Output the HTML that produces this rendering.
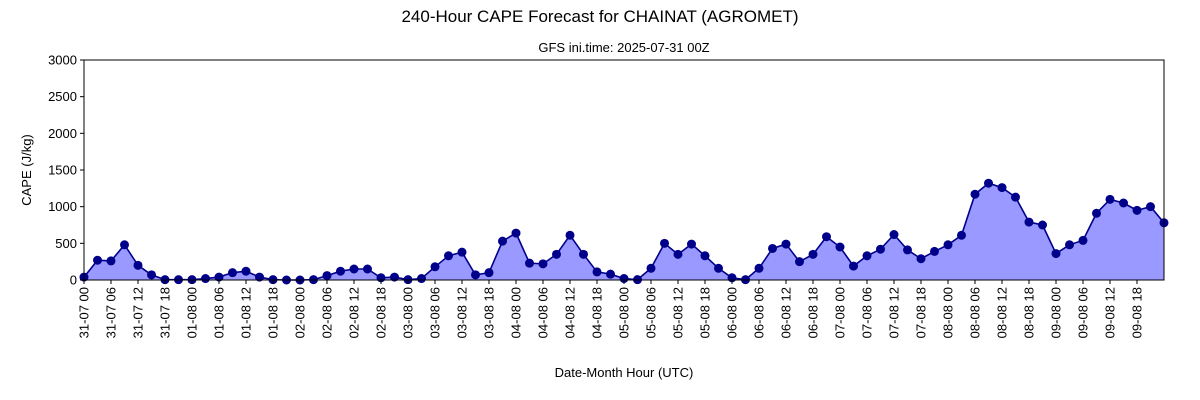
<!DOCTYPE html>
<html><head><meta charset="utf-8"><style>
body{margin:0;background:#fff;}
svg{display:block;font-family:"Liberation Sans","DejaVu Sans",sans-serif;}
</style></head><body>
<svg id="chart" width="1200" height="400">
<text x="600" y="22" font-size="17" text-anchor="middle">240-Hour CAPE Forecast for CHAINAT (AGROMET)</text>
<text x="624" y="52" font-size="13" text-anchor="middle">GFS ini.time: 2025-07-31 00Z</text>
<text transform="translate(31,170) rotate(-90)" font-size="13" text-anchor="middle">CAPE (J/kg)</text>
<text x="624" y="377" font-size="13" text-anchor="middle">Date-Month Hour (UTC)</text>
<g id="plot"></g>
</svg>
<script>
const cape = [40,270,260,480,200,70,5,5,5,20,40,100,120,40,5,0,0,5,60,120,150,150,30,40,5,20,180,330,380,70,100,530,640,230,220,350,610,350,110,80,20,5,160,500,350,490,330,160,30,5,160,430,490,250,350,590,450,190,330,420,620,410,290,390,480,610,1170,1320,1260,1130,790,750,360,480,540,910,1100,1050,950,1000,780];
const yTicks = [0,500,1000,1500,2000,2500,3000];
const days = ['31-07','01-08','02-08','03-08','04-08','05-08','06-08','07-08','08-08','09-08'];
const hours = ['00','06','12','18'];
const xTickLabels = [];
days.forEach(d=>hours.forEach(h=>xTickLabels.push(d+' '+h)));

const L=84,R=1164,T=60,B=280,yMax=3000,stepH=3,totalH=240;
const xs=h=>L+(h/totalH)*(R-L);
const ys=v=>B-(v/yMax)*(B-T);
const NS='http://www.w3.org/2000/svg';
const g=document.getElementById('plot');
function mk(tag,attrs){const e=document.createElementNS(NS,tag);for(const k in attrs)e.setAttribute(k,attrs[k]);return e;}

let pts=cape.map((v,i)=>[xs(i*stepH),ys(v)]);
const area=mk('path',{d:'M'+xs(0)+','+B+' '+pts.map(p=>'L'+p[0]+','+p[1]).join(' ')+' L'+pts[pts.length-1][0]+','+B+' Z',fill:'#9999ff'});


g.appendChild(area);
const line=mk('polyline',{points:pts.map(p=>p.join(',')).join(' '),fill:'none',stroke:'#00008b','stroke-width':1.6});


g.appendChild(line);
pts.forEach(p=>{
  const c=mk('circle',{cx:p[0],cy:p[1],r:4.5,fill:'#00008b'});
  
  
  g.appendChild(c);
});
const frame=mk('rect',{x:L,y:T,width:R-L,height:B-T,fill:'none',stroke:'#000','stroke-width':1});


g.appendChild(frame);
yTicks.forEach(v=>{
  const y=ys(v);
  const t=mk('line',{x1:L-4,x2:L,y1:y,y2:y,stroke:'#000'});
  
  
  g.appendChild(t);
  const lb=mk('text',{x:L-7,y:y+4.5,'font-size':13,'text-anchor':'end'});
  lb.textContent=v;
  
  
  g.appendChild(lb);
});
xTickLabels.forEach((s,i)=>{
  const x=xs(i*6);
  const t=mk('line',{x1:x,x2:x,y1:B,y2:B+4,stroke:'#000'});
  
  
  g.appendChild(t);
  const lb=mk('text',{transform:'translate('+(x+4.5)+','+(B+7)+') rotate(-90)','font-size':13,'text-anchor':'end'});
  lb.textContent=s;
  
  
  g.appendChild(lb);
});
</script>
</body></html>
